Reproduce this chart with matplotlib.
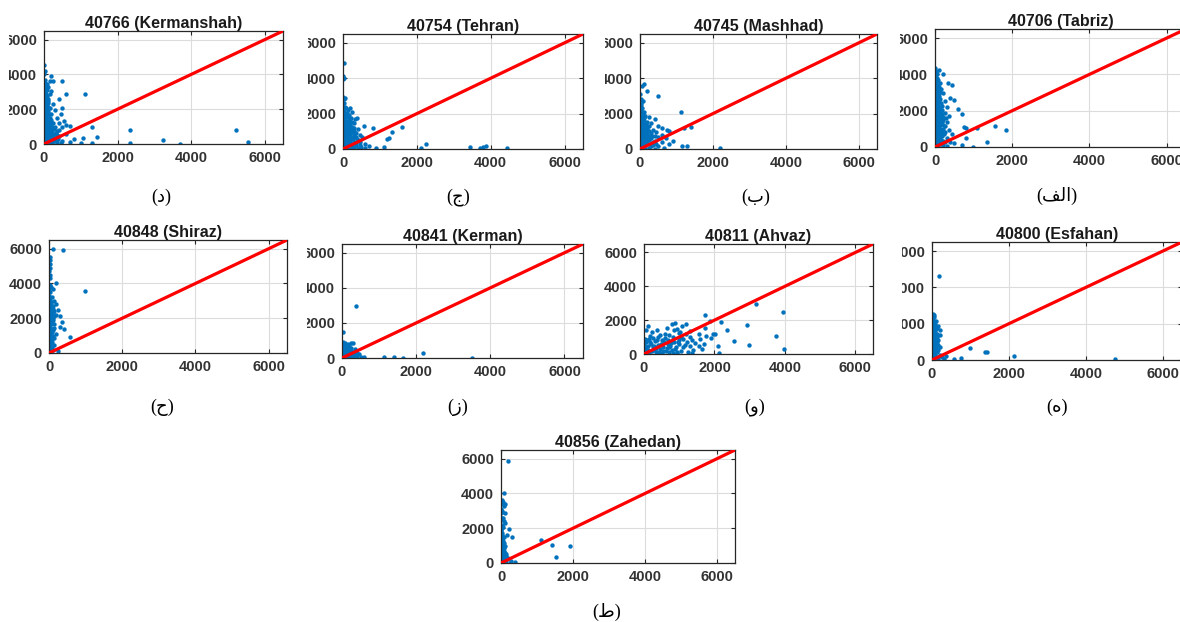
import matplotlib
matplotlib.use("Agg")
import matplotlib.pyplot as plt
from matplotlib.patches import Rectangle

# ---------------- data ----------------
titles = ["40766 (Kermanshah)", "40754 (Tehran)", "40745 (Mashhad)", "40706 (Tabriz)",
          "40848 (Shiraz)", "40841 (Kerman)", "40811 (Ahvaz)", "40800 (Esfahan)",
          "40856 (Zahedan)"]
# Persian panel letters, already in visual (shaped) order
panel_labels = ["(\u062F)", "(\u062C)", "(\u0628)", "(\uFED2\uFEDF\uFE8D)",
                "(\u062D)", "(\u0632)", "(\u0648)", "(\u0647)", "(\u0637)"]
ticks = [0, 2000, 4000, 6000]
line_x = [0, 6500]
line_y = [0, 6500]

kermanshah = [
 (10,4550),(15,4200),(10,4000),(30,3700),(150,3600),(250,3600),(180,3900),(500,3600),
 (20,3300),(120,3300),(10,3100),(200,3050),(40,3000),(60,2900),(150,2850),(590,2880),(1120,2850),
 (20,2800),(90,2750),(10,2600),(80,2600),(400,2600),(50,2500),(120,2450),(30,2300),(250,2300),(80,2200),
 (10,2100),(150,2050),(480,2080),(40,1950),(100,1900),(300,1950),(20,1800),(60,1700),(180,1700),(450,1700),
 (10,1600),(120,1550),(40,1500),(350,1500),(80,1400),(200,1400),(20,1300),(140,1300),(550,1300),
 (60,1200),(250,1200),(400,1200),(10,1100),(100,1100),(600,1100),(180,1050),(700,1050),(40,1000),(500,1000),
 (300,950),(1295,960),(20,900),(130,900),(70,850),(400,800),(220,800),(10,750),(350,750),(90,700),
 (160,650),(40,600),(270,600),(600,600),(10,500),(120,500),(200,450),(400,450),(60,400),(1450,385),
 (300,350),(1050,350),(20,300),(150,300),(820,270),(90,200),(250,200),(500,200),(10,150),(700,100),
 (50,80),(180,80),(350,100),(1000,60),(1300,60),(30,20),(120,20),(450,30),
 (2336,790),(2340,80),(3240,250),(3690,10),(5215,790),(5550,135),
 (0,2400),(0,1900),(0,1400),(0,900),(0,400),(30,1200),(70,1000),(110,700),(50,250),(160,1000),
 (200,150),(240,500),(100,2350),(70,3100),
 (20,2000),(60,2100),(100,2150),(30,1850),(80,1800),(130,1750),(20,1550),(70,1550),(160,1500),(100,1450),
 (30,1350),(110,1250),(200,1250),(50,1100),(150,1150),(230,1000),(90,950),(180,900),(30,800),(120,800),
 (280,850),(60,700),(200,700),(320,650),(10,600),(130,600),(80,500),(240,550),(350,500),(30,400),
 (160,400),(250,350),(100,300),(380,300),(50,150),(150,150),(300,200),(220,50),(80,30),(20,3500),
 (40,2700),(120,2600),(10,2900),(50,3200),(90,3450)]

tehran = [
 (15,4880),(10,4100),(20,4000),(10,3950),(10,2950),(20,2800),(30,2600),(60,2900),
 (10,2400),(80,2300),(200,2300),(140,2200),(30,2150),(100,2050),(250,2100),(10,1950),(150,1900),(60,1800),
 (220,1750),(390,1730),(330,1700),(20,1650),(120,1600),(200,1500),(50,1500),(300,1450),(10,1350),(100,1350),
 (560,1300),(250,1250),(180,1200),(40,1150),(815,1205),(1600,1225),(400,1150),(130,1050),(300,1000),(20,1000),
 (80,900),(350,900),(200,850),(450,800),(1340,940),(10,800),(140,750),(280,700),(60,650),(520,650),
 (1180,545),(1250,600),(200,550),(380,550),(20,500),(120,450),(300,400),(450,400),(60,350),(220,300),
 (600,300),(10,250),(150,200),(350,200),(500,100),(700,150),(80,100),(250,80),(600,50),(1100,100),
 (20,30),(180,20),(400,30),(900,60),(2100,30),(2250,280),(3430,100),(3700,30),(3800,120),(3860,160),(4450,30),
 (0,2600),(0,2100),(0,1700),(0,1200),(0,700),(0,300),(40,1300),(70,1050),(100,600),(160,400),(50,2400),(120,1400),
 (30,2000),(80,1950),(130,1800),(20,1550),(70,1600),(160,1650),(90,1450),(150,1500),(250,1550),(30,1300),
 (200,1350),(60,1200),(120,1250),(300,1200),(10,1100),(90,1100),(220,1100),(50,950),(170,950),(250,950),
 (30,850),(120,850),(300,800),(90,750),(200,700),(350,650),(20,650),(150,600),(280,550),(70,500),
 (200,450),(400,500),(30,400),(120,350),(350,350),(250,250),(80,250),(450,200),(20,150),(300,100),(120,80)]

mashhad = [
 (60,3560),(120,3650),(200,3300),(500,2980),(10,3100),(30,2800),(20,2600),(80,2700),(10,2400),(60,2300),
 (1114,2110),(20,2200),(100,2100),(40,2000),(10,1900),(150,1850),(250,1800),(60,1750),(400,1700),(20,1650),
 (120,1600),(200,1550),(40,1500),(300,1450),(10,1400),(90,1350),(180,1300),(500,1300),(1390,1260),(1200,1200),
 (600,1200),(30,1250),(140,1150),(350,1100),(750,1100),(800,1000),(60,1050),(250,1000),(10,950),(450,950),
 (120,900),(200,850),(40,800),(600,800),(320,750),(90,700),(500,650),(10,650),(180,600),(700,600),
 (900,450),(50,550),(260,500),(400,450),(120,400),(600,400),(20,350),(200,300),(350,250),(800,300),
 (80,200),(500,150),(1150,150),(1300,150),(2190,75),(10,100),(250,80),(650,50),(150,30),(400,20),
 (0,2000),(0,1500),(0,1100),(0,700),(0,300),(30,1700),(70,1250),(110,500),(150,1450),(200,1100),
 (40,2500),(20,2050),(70,1900),(120,1750),(30,1550),(80,1600),(170,1450),(50,1350),(130,1300),(250,1300),
 (20,1150),(100,1100),(200,1200),(60,950),(170,950),(300,900),(20,850),(120,800),(250,750),(400,750),
 (60,600),(150,650),(300,600),(30,500),(200,450),(350,400),(80,350),(150,250),(300,150),(50,50),(450,300)]

tabriz = [
 (10,4350),(100,4250),(200,4020),(30,4100),(10,3900),(60,3800),(345,3550),(430,3430),(20,3600),(120,3550),
 (40,3400),(10,3250),(150,3200),(80,3100),(20,3000),(200,2950),(50,2850),(110,2800),(10,2700),(400,2700),
 (500,2600),(70,2600),(250,2550),(30,2450),(150,2400),(10,2300),(90,2250),(300,2200),(40,2150),(600,2100),
 (180,2050),(10,2000),(120,1950),(60,1900),(250,1850),(700,1800),(20,1800),(90,1700),(350,1700),(10,1600),
 (150,1600),(50,1550),(220,1500),(30,1400),(120,1400),(300,1350),(10,1300),(80,1250),(200,1200),(40,1150),
 (750,1100),(800,1050),(1080,1040),(1555,1170),(1830,940),(10,1050),(140,1000),(350,950),(60,900),(250,850),
 (20,800),(110,750),(450,700),(10,650),(180,600),(800,500),(50,550),(300,500),(90,450),(20,400),(200,350),
 (1340,280),(400,300),(60,250),(10,200),(150,180),(500,200),(700,100),(975,10),(80,80),(300,60),(20,20),
 (0,3700),(0,3300),(0,2900),(0,2500),(0,2100),(0,1700),(0,1350),(0,950),(0,550),(0,150),
 (40,3700),(70,3350),(100,2950),(30,2700),(130,2650),(60,2350),(100,2050),(170,1800),(40,1750),(110,1500),
 (70,1350),(160,1250),(40,950),(100,1100),(130,550),(70,700),(220,1000),(180,2250),(280,1600),(230,700),
 (20,4200),(50,4000),(80,3700),(20,3450),(100,3300),(60,3200),(30,3100),(130,3050),(80,2850),(20,2550),
 (100,2500),(40,2250),(130,2200),(70,2050),(20,1900),(150,1850),(60,1650),(120,1700),(200,1650),(30,1550),
 (90,1450),(180,1400),(20,1200),(120,1200),(250,1150),(60,1050),(180,900),(100,850),(30,700),(160,750),
 (60,450),(150,400),(250,250),(100,300),(40,100),(200,100)]

shiraz = [
 (100,6000),(370,5900),(30,5550),(40,5350),(20,5100),(30,4900),(10,4700),(20,4500),(200,4000),(975,3570),
 (50,3800),(100,3700),(10,3600),(30,3500),(80,3200),(10,3150),(150,3000),(40,3000),(200,2800),(20,2800),
 (100,2700),(60,2550),(250,2500),(10,2450),(150,2400),(40,2300),(200,2200),(300,2100),(80,2100),(10,2000),
 (120,1900),(40,1800),(350,1800),(60,1650),(300,1500),(10,1550),(150,1450),(400,1400),(30,1300),(90,1200),
 (200,1100),(10,1050),(566,935),(60,950),(130,850),(20,750),(80,650),(10,500),(150,450),(50,350),(20,200),
 (100,150),(250,100),(10,50),(60,20),
 (0,3300),(0,2600),(0,1900),(0,1200),(0,700),(0,300),(20,3900),(30,4300),(100,2300),(70,1400),
 (30,3050),(60,2900),(10,2700),(50,2650),(120,2550),(30,2400),(80,2350),(20,2200),(130,2150),(50,2000),
 (100,2000),(20,1750),(80,1700),(150,1650),(40,1500),(100,1350),(20,1150),(50,1050),(100,1000),(30,900),
 (80,800),(50,600),(20,450),(90,350),(40,150)]

kerman = [
 (370,2970),(27,1505),(20,900),(80,850),(150,800),(300,850),(10,750),(200,700),(60,650),(120,600),
 (250,550),(20,500),(350,500),(90,450),(180,400),(10,350),(280,350),(60,300),(400,300),(150,250),
 (30,200),(220,180),(100,150),(10,100),(300,100),(400,100),(500,30),(600,50),(180,40),(50,40),
 (1137,60),(1400,80),(1650,20),(2175,290),(3500,5),(0,600),(0,250),(40,800),(130,700),(230,850),
 (40,700),(100,750),(170,650),(60,550),(150,500),(240,450),(30,400),(120,350),(200,300),(330,250),
 (80,200),(250,100),(140,80),(20,50),(350,50),(450,200)]

ahvaz = [
 (3180,2950),(3950,2470),(1730,2330),(2190,1880),(1880,1940),(2920,1690),(2370,1440),(3760,1050),(2560,780),(2990,520),
 (3980,270),(2140,40),(2100,470),(1970,1165),(2020,1165),(1900,950),(1765,1050),(1735,1530),(1555,1165),(1690,620),
 (1550,470),(1640,270),(1360,40),(1195,1750),(890,1825),(790,1750),(930,1500),(1070,1630),(1025,1300),(1310,1010),
 (1215,720),(645,1550),(360,1440),(125,1630),(57,1400),(220,1300),(455,1110),(150,910),(835,1010),(980,815),
 (690,620),(550,430),(310,230),(1120,390),(1400,230),(930,135),
 (20,900),(50,700),(100,500),(30,300),(80,150),(150,50),(200,600),(250,400),(300,750),(350,100),
 (400,550),(450,300),(500,800),(550,150),(600,950),(650,350),(700,100),(750,500),(800,250),(850,700),
 (900,400),(950,50),(1000,600),(1050,200),(1100,900),(1150,550),(1250,100),(1300,450),(1350,800),(1450,650),
 (20,100),(60,400),(120,250),(180,700),(240,150),(280,500),(330,350),(380,850),(420,100),(480,600),
 (520,50),(580,700),(620,200),(680,850),(720,400),(780,650),(820,50),(870,300),(960,700),(1060,1000),
 (1200,1200),(1000,1250),(700,1100),(400,1000),(180,1050),(10,600),(90,800),(260,950),(600,1200),(850,1400),
 (1300,1350),(1600,900)]

esfahan = [
 (180,4600),(20,2520),(50,2500),(113,2150),(10,2050),(60,1950),(150,1900),(20,1800),(100,1700),(200,1650),
 (40,1600),(10,1500),(130,1450),(60,1350),(200,1380),(20,1250),(100,1200),(160,1100),(40,1050),(10,950),
 (80,900),(150,800),(30,750),(200,700),(60,600),(10,500),(120,450),(40,350),(200,300),(80,200),(10,100),
 (150,50),(300,80),(370,220),(560,40),(760,130),(980,645),(1390,460),(1430,460),(2130,220),(4760,40),
 (0,2200),(0,1700),(0,1300),(0,800),(0,300),(30,2300),(90,1550),(120,1000),(250,150),
 (40,2350),(20,2150),(80,2000),(40,1850),(130,1750),(20,1650),(70,1450),(30,1350),(130,1250),(70,1150),
 (20,1000),(110,900),(50,800),(20,650),(100,650),(150,550),(50,450),(90,300),(30,200),(160,150),(60,50)]

zahedan = [
 (193,5870),(74,4000),(30,3600),(10,3400),(100,3390),(50,3500),(40,2950),(100,2900),(10,2850),(30,2600),
 (70,2400),(100,2300),(20,2200),(60,2050),(210,1940),(10,1900),(165,1620),(295,1470),(40,1700),(90,1500),
 (20,1400),(60,1250),(10,1100),(120,1000),(40,900),(10,800),(80,700),(30,600),(150,500),(10,450),
 (60,350),(200,300),(20,250),(100,150),(285,95),(250,10),(400,30),(10,50),(60,20),
 (1110,1330),(1405,1010),(1910,990),(1515,325),
 (0,3100),(0,2500),(0,1800),(0,1200),(0,700),(0,200),(40,1300),(70,900),(130,400),
 (30,1600),(60,1500),(20,1300),(80,1150),(40,1050),(20,950),(90,850),(50,750),(20,650),(100,600),
 (40,500),(80,450),(20,350),(120,300),(50,200),(150,100),(20,150),(60,2600),(20,3000),(80,3300),(40,2000)]

stations = [kermanshah, tehran, mashhad, tabriz, shiraz, kerman, ahvaz, esfahan, zahedan]

# ---------------- layout (pixels: left, right, top, bottom) ----------------
W, H = 1180, 622
boxes = [(44, 283, 31, 144), (343, 583, 34, 149), (640, 877, 34, 149), (935, 1186, 29, 147),
         (49, 287, 240, 353), (342, 583, 244, 358), (644, 873, 244, 354), (932, 1182, 242, 360),
         (501, 735, 450, 563)]
label_pos = [(161, 197), (458, 197), (756, 197), (1057, 196),
             (162, 407), (458, 407), (755, 407), (1057, 407), (607, 612)]
# white masks imitating the cropped tick labels (left, right, top, bottom)
masks = [(0, 9, 0, 175), (290, 308, 20, 170), (590, 605, 20, 170), (880, 900, 20, 170),
         (290, 307, 230, 380), (878, 902, 230, 380)]

fig = plt.figure(figsize=(W / 100, H / 100), dpi=100)
fig.patch.set_facecolor("white")

tick_color = "#262626"
for pts, title, lab, (l, r, t, b), (lx, ly) in zip(stations, titles, panel_labels, boxes, label_pos):
    ax = fig.add_axes([l / W, 1 - b / H, (r - l) / W, (b - t) / H])
    xs = [p[0] for p in pts]
    ys = [p[1] for p in pts]
    ax.scatter(xs, ys, s=10, color="#0072BD", linewidths=0, zorder=2)
    ax.plot(line_x, line_y, color="#FF0000", linewidth=2.3, zorder=3, solid_capstyle="butt")
    ax.set_xlim(0, 6500)
    ax.set_ylim(0, 6500)
    ax.set_xticks(ticks)
    ax.set_yticks(ticks)
    ax.grid(True, color="#dcdcdc", linewidth=0.8, zorder=0)
    ax.set_axisbelow(True)
    ax.tick_params(direction="in", length=3, width=0.8, colors=tick_color, labelsize=10.5,
                   top=True, right=True, pad=5)
    for tl in ax.get_xticklabels() + ax.get_yticklabels():
        tl.set_fontweight("bold")
        tl.set_family(["Liberation Sans", "DejaVu Sans"])
        tl.set_color("#333333")
    for sp in ax.spines.values():
        sp.set_color(tick_color)
        sp.set_linewidth(0.9)
    ax.set_title(title, fontsize=11.5, fontweight="bold", pad=2,
                 family=["Liberation Sans", "DejaVu Sans"], color="#1a1a1a")
    fig.text(lx / W, 1 - ly / H, lab, ha="center", va="center", fontsize=13,
             family=["Liberation Serif", "DejaVu Sans"], color="black")

for (l, r, t, b) in masks:
    fig.patches.append(Rectangle((l / W, 1 - b / H), (r - l) / W, (b - t) / H,
                                 transform=fig.transFigure, facecolor="white",
                                 edgecolor="none", zorder=10))

fig.savefig("out.png", dpi=100)
